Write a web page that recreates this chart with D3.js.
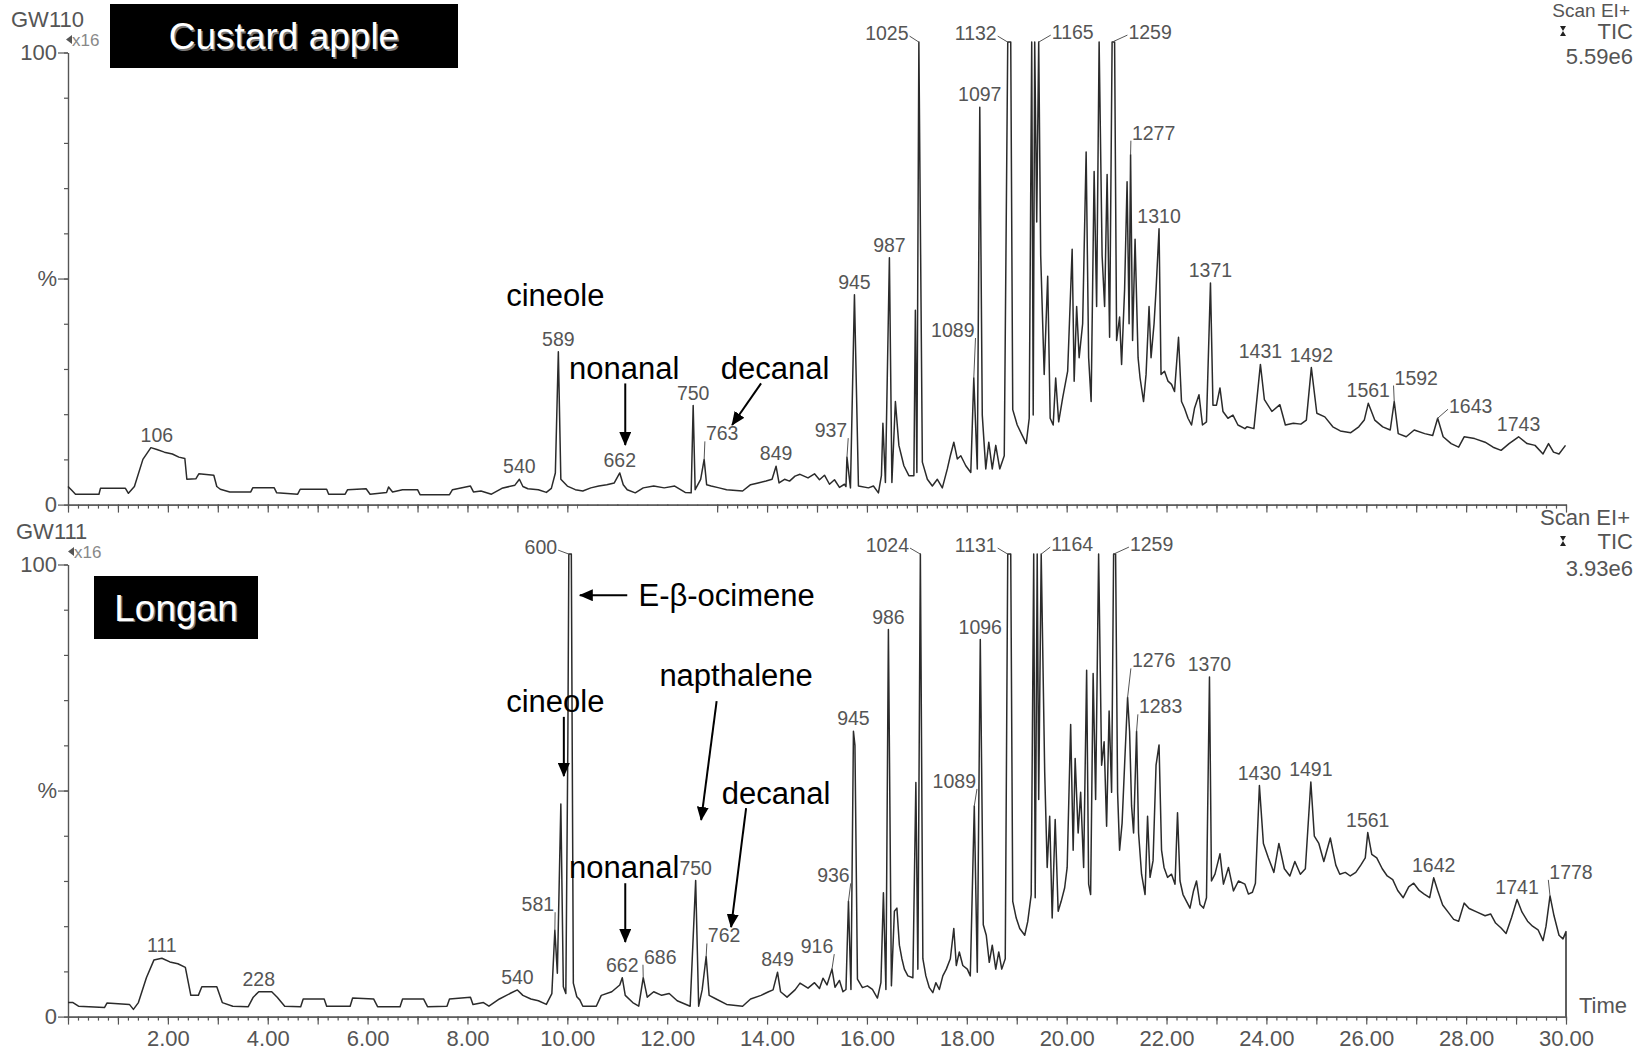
<!DOCTYPE html>
<html>
<head>
<meta charset="utf-8">
<script src="https://cdn.jsdelivr.net/npm/d3@7"></script>
<style>
  body { margin: 0; background: #fff; }
  svg { display: block; font-family: "Liberation Sans", Arial, sans-serif; }
</style>
</head>
<body>
<div id="chart"></div>
<script>
// TIC traces: [retention time (min), % of full scale]
const custardTrace = [
  [0.00, 4.0], [0.08, 3.1], [0.15, 2.3], [0.62, 2.3], [0.65, 3.6], [1.15, 3.6], [1.21, 2.5], [1.33, 4.0],
  [1.50, 10.0], [1.66, 12.6], [1.78, 12.2], [1.93, 11.6], [2.09, 11.2], [2.22, 10.5], [2.34, 10.2], [2.38, 5.6],
  [2.56, 5.7], [2.62, 6.8], [2.92, 6.5], [2.98, 4.0], [3.05, 3.4], [3.24, 2.8], [3.66, 2.8], [3.70, 3.7],
  [4.13, 3.7], [4.18, 2.6], [4.60, 2.3], [4.65, 3.4], [5.18, 3.4], [5.22, 2.3], [5.55, 2.3], [5.60, 3.3],
  [5.97, 3.5], [6.05, 2.3], [6.38, 2.7], [6.42, 3.9], [6.50, 2.8], [6.70, 3.3], [7.00, 3.3], [7.05, 2.2],
  [7.64, 2.2], [7.70, 3.3], [8.06, 4.1], [8.12, 2.8], [8.27, 3.0], [8.48, 2.3], [8.69, 3.6], [8.95, 4.3],
  [9.04, 5.6], [9.11, 4.0], [9.21, 3.5], [9.42, 3.3], [9.58, 2.7], [9.68, 3.6], [9.76, 7.0], [9.82, 33.8],
  [9.87, 5.6], [10.00, 4.1], [10.16, 3.3], [10.31, 3.0], [10.47, 3.7], [10.63, 4.1], [10.79, 4.4], [10.94, 4.8],
  [11.05, 7.0], [11.12, 4.4], [11.20, 3.3], [11.36, 2.6], [11.52, 3.7], [11.73, 4.1], [11.94, 3.7], [12.15, 4.1],
  [12.36, 2.7], [12.48, 2.6], [12.52, 21.9], [12.56, 3.3], [12.67, 5.6], [12.74, 10.0], [12.79, 4.4], [12.88, 4.1],
  [13.04, 3.7], [13.19, 3.3], [13.51, 3.0], [13.67, 4.4], [13.82, 4.8], [13.98, 5.2], [14.10, 5.6], [14.18, 8.5],
  [14.24, 4.8], [14.35, 5.6], [14.45, 5.2], [14.56, 6.3], [14.66, 6.7], [14.82, 5.9], [14.95, 6.8], [15.05, 5.5],
  [15.15, 6.5], [15.25, 4.5], [15.35, 5.5], [15.45, 3.8], [15.55, 4.5], [15.58, 4.0], [15.60, 10.5], [15.67, 3.7],
  [15.75, 46.4], [15.83, 4.1], [16.03, 3.7], [16.13, 4.1], [16.23, 2.6], [16.29, 6.4], [16.32, 18.0], [16.37, 4.9],
  [16.45, 54.6], [16.50, 4.9], [16.57, 22.8], [16.64, 13.1], [16.74, 8.6], [16.84, 6.4], [16.94, 6.4], [16.97, 43.0],
  [17.00, 7.1], [17.04, 102.3], [17.11, 9.4], [17.21, 5.6], [17.31, 4.1], [17.41, 5.6], [17.51, 3.7], [17.61, 7.9],
  [17.67, 10.8], [17.74, 13.8], [17.81, 10.1], [17.88, 10.8], [17.98, 8.6], [18.08, 7.1], [18.14, 28.0], [18.21, 7.9],
  [18.26, 87.9], [18.31, 19.8], [18.38, 7.9], [18.44, 13.8], [18.51, 7.9], [18.58, 13.1], [18.66, 7.9], [18.75, 10.8],
  [18.82, 102.3], [18.88, 102.3], [18.92, 21.0], [19.01, 17.6], [19.11, 15.3], [19.19, 13.5], [19.25, 19.1], [19.30, 102.3],
  [19.33, 19.8], [19.36, 102.3], [19.40, 62.5], [19.44, 102.3], [19.48, 55.0], [19.55, 28.8], [19.62, 50.5], [19.67, 19.1],
  [19.73, 17.6], [19.78, 28.0], [19.84, 18.3], [19.92, 23.6], [20.02, 29.5], [20.11, 56.5], [20.15, 27.3], [20.20, 43.8],
  [20.25, 32.5], [20.32, 40.0], [20.39, 78.0], [20.44, 32.5], [20.49, 22.8], [20.55, 73.7], [20.60, 43.8], [20.65, 102.3],
  [20.71, 55.0], [20.76, 43.8], [20.81, 73.0], [20.86, 37.0], [20.91, 102.3], [20.96, 102.3], [21.00, 36.3], [21.06, 41.5],
  [21.10, 31.0], [21.16, 47.5], [21.21, 71.4], [21.25, 40.0], [21.28, 77.4], [21.32, 36.3], [21.37, 58.7], [21.43, 32.5],
  [21.47, 28.0], [21.54, 22.8], [21.59, 28.8], [21.65, 43.8], [21.69, 32.5], [21.75, 40.0], [21.79, 47.5], [21.85, 61.0],
  [21.89, 28.8], [21.96, 29.5], [22.03, 27.3], [22.10, 26.6], [22.16, 25.0], [22.24, 37.0], [22.30, 22.8], [22.36, 21.3],
  [22.43, 19.1], [22.50, 17.6], [22.56, 21.3], [22.65, 24.3], [22.72, 17.6], [22.80, 18.3], [22.88, 49.0], [22.93, 22.0],
  [23.00, 22.0], [23.07, 25.8], [23.13, 20.6], [23.23, 19.1], [23.33, 19.8], [23.43, 17.6], [23.57, 16.8], [23.61, 17.2],
  [23.75, 16.8], [23.88, 31.0], [23.96, 23.2], [24.11, 20.6], [24.27, 22.1], [24.38, 17.6], [24.54, 18.0], [24.69, 17.8],
  [24.80, 18.7], [24.90, 30.3], [25.01, 20.2], [25.17, 19.4], [25.33, 17.2], [25.48, 16.3], [25.69, 15.9], [25.85, 17.2],
  [25.96, 18.7], [26.04, 22.4], [26.17, 18.7], [26.33, 17.2], [26.48, 16.5], [26.56, 22.8], [26.64, 15.7], [26.80, 15.0],
  [26.96, 16.5], [27.17, 15.7], [27.33, 15.3], [27.43, 19.1], [27.54, 15.0], [27.70, 13.5], [27.85, 12.7], [27.96, 15.0],
  [28.17, 14.6], [28.38, 13.8], [28.54, 12.7], [28.70, 12.0], [28.86, 13.5], [29.05, 15.0], [29.22, 13.5], [29.38, 13.1],
  [29.54, 11.2], [29.65, 13.5], [29.75, 11.6], [29.86, 11.2], [29.99, 13.1]
];

const longanTrace = [
  [0.00, 3.1], [0.10, 3.1], [0.21, 2.3], [0.73, 2.0], [0.78, 3.0], [1.23, 2.7], [1.31, 1.6], [1.41, 3.1],
  [1.57, 8.6], [1.72, 12.5], [1.88, 12.9], [2.04, 12.1], [2.20, 11.7], [2.35, 10.9], [2.46, 4.7], [2.61, 4.7],
  [2.68, 6.6], [2.98, 6.6], [3.09, 3.1], [3.30, 2.3], [3.61, 2.2], [3.71, 4.3], [3.82, 5.5], [4.08, 5.5],
  [4.19, 4.3], [4.34, 2.3], [4.66, 2.2], [4.71, 3.9], [5.13, 3.9], [5.18, 2.3], [5.65, 2.3], [5.70, 4.1],
  [6.12, 3.9], [6.20, 2.2], [6.65, 2.2], [6.70, 3.9], [7.12, 3.9], [7.20, 2.2], [7.59, 2.3], [7.64, 3.9],
  [8.06, 4.3], [8.11, 2.7], [8.32, 3.1], [8.43, 2.3], [8.64, 3.9], [8.85, 5.1], [9.00, 5.9], [9.11, 4.7],
  [9.27, 3.9], [9.42, 3.5], [9.58, 2.7], [9.69, 5.1], [9.75, 19.1], [9.80, 9.6], [9.87, 47.0], [9.92, 6.6],
  [9.97, 5.1], [10.01, 60.0], [10.03, 102.3], [10.08, 102.3], [10.12, 7.4], [10.19, 4.4], [10.25, 3.7], [10.31, 2.3],
  [10.58, 2.3], [10.68, 4.7], [10.89, 5.5], [11.05, 7.0], [11.10, 8.6], [11.16, 4.7], [11.31, 3.1], [11.43, 2.3],
  [11.52, 8.6], [11.60, 4.3], [11.73, 5.5], [11.89, 4.7], [12.04, 5.1], [12.20, 3.5], [12.46, 2.3], [12.57, 30.1],
  [12.63, 2.3], [12.70, 5.9], [12.78, 13.3], [12.84, 4.7], [12.98, 3.9], [13.19, 2.7], [13.51, 2.3], [13.67, 3.9],
  [13.88, 4.7], [14.03, 5.5], [14.12, 5.9], [14.21, 9.8], [14.27, 5.5], [14.40, 4.3], [14.56, 5.9], [14.66, 7.4],
  [14.82, 6.3], [14.95, 7.5], [15.05, 6.2], [15.12, 8.5], [15.20, 7.0], [15.30, 10.5], [15.36, 6.5], [15.45, 8.0],
  [15.52, 5.5], [15.58, 6.0], [15.63, 25.5], [15.68, 6.0], [15.73, 63.1], [15.76, 60.0], [15.81, 8.3], [15.91, 6.4],
  [16.01, 6.8], [16.11, 6.0], [16.21, 4.1], [16.28, 7.5], [16.33, 27.4], [16.38, 6.0], [16.43, 85.6], [16.49, 6.8],
  [16.55, 23.3], [16.60, 24.0], [16.65, 15.8], [16.70, 12.8], [16.75, 10.5], [16.82, 9.0], [16.92, 8.6], [16.98, 51.8],
  [17.02, 10.5], [17.07, 102.3], [17.12, 12.8], [17.18, 9.0], [17.25, 6.4], [17.32, 5.3], [17.38, 7.5], [17.45, 6.0],
  [17.52, 9.0], [17.59, 10.5], [17.67, 12.8], [17.74, 19.5], [17.79, 11.3], [17.85, 14.3], [17.92, 11.3], [18.01, 10.5],
  [18.07, 9.0], [18.15, 46.6], [18.21, 9.8], [18.27, 83.4], [18.33, 20.3], [18.39, 18.0], [18.45, 12.0], [18.51, 15.8],
  [18.58, 10.5], [18.64, 14.3], [18.70, 10.5], [18.77, 12.8], [18.82, 102.3], [18.88, 102.3], [18.92, 25.5], [18.99, 21.8],
  [19.06, 19.5], [19.16, 18.0], [19.22, 21.0], [19.29, 27.0], [19.34, 102.3], [19.37, 26.3], [19.41, 102.3], [19.44, 48.0],
  [19.49, 102.3], [19.56, 54.1], [19.61, 33.0], [19.66, 44.3], [19.71, 21.8], [19.77, 43.6], [19.83, 23.3], [19.89, 25.5],
  [19.96, 28.5], [20.01, 33.0], [20.08, 64.6], [20.13, 36.8], [20.17, 57.1], [20.23, 40.6], [20.28, 49.6], [20.34, 33.0],
  [20.40, 76.6], [20.44, 29.3], [20.48, 27.0], [20.53, 75.9], [20.58, 48.0], [20.64, 102.3], [20.70, 55.6], [20.75, 60.8],
  [20.80, 42.1], [20.85, 67.6], [20.90, 49.6], [20.94, 102.3], [20.98, 102.3], [21.02, 49.6], [21.06, 36.8], [21.11, 42.8],
  [21.16, 55.6], [21.22, 70.6], [21.26, 63.1], [21.30, 46.6], [21.34, 40.6], [21.40, 63.1], [21.44, 40.6], [21.50, 31.5],
  [21.57, 27.0], [21.62, 44.3], [21.67, 30.8], [21.73, 34.5], [21.79, 55.6], [21.85, 60.1], [21.90, 36.8], [21.95, 33.0],
  [22.02, 30.8], [22.10, 31.5], [22.17, 29.3], [22.22, 45.1], [22.27, 30.0], [22.33, 27.0], [22.40, 25.5], [22.47, 24.0],
  [22.54, 27.8], [22.60, 30.0], [22.67, 24.8], [22.74, 24.0], [22.80, 26.3], [22.86, 75.1], [22.90, 30.0], [22.97, 31.5],
  [23.07, 36.0], [23.14, 29.3], [23.24, 33.0], [23.34, 27.8], [23.44, 30.0], [23.57, 29.3], [23.64, 27.1], [23.72, 27.5],
  [23.78, 29.5], [23.86, 51.1], [23.94, 38.3], [24.04, 35.1], [24.15, 31.9], [24.25, 38.3], [24.36, 32.7], [24.47, 31.1],
  [24.57, 34.3], [24.68, 31.5], [24.78, 32.7], [24.89, 51.9], [24.96, 39.9], [25.05, 38.3], [25.15, 34.3], [25.28, 39.5],
  [25.39, 33.5], [25.47, 31.5], [25.58, 31.9], [25.68, 31.1], [25.79, 31.9], [25.89, 33.5], [25.98, 35.1], [26.03, 40.7],
  [26.11, 35.9], [26.21, 35.1], [26.32, 32.7], [26.42, 31.1], [26.53, 30.3], [26.63, 27.9], [26.74, 26.3], [26.85, 28.7],
  [26.95, 29.5], [27.06, 27.9], [27.16, 27.1], [27.27, 26.3], [27.35, 30.7], [27.43, 27.9], [27.53, 24.7], [27.64, 23.1],
  [27.75, 21.5], [27.85, 21.1], [27.96, 25.1], [28.06, 23.9], [28.22, 23.1], [28.38, 22.3], [28.49, 22.7], [28.59, 20.7],
  [28.70, 19.6], [28.80, 18.4], [28.91, 21.9], [29.02, 25.9], [29.12, 23.1], [29.23, 21.1], [29.33, 20.0], [29.44, 19.2],
  [29.54, 16.8], [29.60, 20.0], [29.68, 26.7], [29.76, 22.3], [29.86, 18.0], [29.94, 17.2], [30.00, 18.8], [30.00, 0.0]
];

// labelled peaks: [scan number, retention time]
const custardPeaks = [
  [106, 1.66], [540, 9.04], [589, 9.82], [662, 11.05], [750, 12.52], [763, 12.74], [849, 14.18],
  [937, 15.60], [945, 15.75], [987, 16.45], [1025, 17.04], [1089, 18.14], [1097, 18.26], [1132, 18.82],
  [1165, 19.44], [1259, 20.91], [1277, 21.28], [1310, 21.85], [1371, 22.88], [1431, 23.88], [1492, 24.90],
  [1561, 26.04], [1592, 26.56], [1643, 27.43], [1743, 29.05]
];
const longanPeaks = [
  [111, 1.88], [228, 3.82], [540, 9.00], [581, 9.75], [600, 10.03], [662, 11.10], [686, 11.52],
  [750, 12.57], [762, 12.78], [849, 14.21], [916, 15.30], [936, 15.63], [945, 15.73], [986, 16.43],
  [1024, 17.07], [1089, 18.15], [1096, 18.27], [1131, 18.82], [1164, 19.49], [1259, 20.94], [1276, 21.22],
  [1283, 21.40], [1370, 22.86], [1430, 23.86], [1491, 24.89], [1561, 26.03], [1642, 27.35], [1741, 29.02],
  [1778, 29.68]
];

const timeTicks = [2, 4, 6, 8, 10, 12, 14, 16, 18, 20, 22, 24, 26, 28, 30];

// compound notes, placed in (time, %) units of each panel
const custardNotes = [
  {text: "cineole", t: 9.76, v: 46.3},
  {text: "nonanal", t: 11.14, v: 30.2, from: [11.16, 26.8], to: [11.16, 13.2]},
  {text: "decanal", t: 14.16, v: 30.2, from: [13.88, 26.8], to: [13.30, 17.6]}
];
const longanNotes = [
  {text: "E-β-ocimene", t: 13.19, v: 93.2, from: [11.20, 93.2], to: [10.25, 93.2]},
  {text: "cineole", t: 9.76, v: 69.8, from: [9.93, 66.3], to: [9.93, 53.2]},
  {text: "napthalene", t: 13.38, v: 75.6, from: [12.99, 69.8], to: [12.68, 43.5]},
  {text: "decanal", t: 14.18, v: 49.6, from: [13.58, 46.1], to: [13.28, 19.8]},
  {text: "nonanal", t: 11.14, v: 33.2, from: [11.16, 29.5], to: [11.16, 16.5]}
];

// label offsets (px) for peak labels that sit beside their peak with a leader
const labelShift = {
  "custard-106": [6, 0], "custard-763": [18, -13], "custard-937": [-16, -14],
  "custard-1025": [-32, 4], "custard-1089": [-21, -35], "custard-1132": [-32, 4],
  "custard-1165": [34, 3], "custard-1259": [38, 3], "custard-1277": [23, -9],
  "custard-1592": [22, -11], "custard-1643": [33, 1],
  "longan-581": [-17, -13], "longan-600": [-28, 6], "longan-686": [17, -8],
  "longan-762": [18, -8], "longan-916": [-15, -10], "longan-936": [-15, -13],
  "longan-1024": [-33, 4], "longan-1089": [-20, -12], "longan-1131": [-32, 4],
  "longan-1164": [31, 3], "longan-1259": [38, 3], "longan-1276": [26, -24],
  "longan-1283": [24, -12], "longan-1778": [21, -11]
};

const width = 1645, height = 1052;
const grey = "#555";

const svg = d3.select("#chart").append("svg")
  .attr("width", width)
  .attr("height", height);

svg.append("defs").append("marker")
  .attr("id", "head")
  .attr("markerUnits", "userSpaceOnUse")
  .attr("viewBox", "0 0 14 12")
  .attr("markerWidth", 14)
  .attr("markerHeight", 12)
  .attr("refX", 13)
  .attr("refY", 6)
  .attr("orient", "auto")
  .append("path")
  .attr("d", "M0,0L14,6L0,12Z")
  .attr("fill", "#000");

const x = d3.scaleLinear().domain([0, 30]).range([68, 1566]);

// info: baselines of "Scan EI+", "TIC", the scale value, and the TIC marker centre
const panels = [
  {key: "custard", run: "GW110", name: "Custard apple", tic: "5.59e6", base: 504.6,
   trace: custardTrace, peaks: custardPeaks, notes: custardNotes,
   box: [110, 4, 348, 64], info: [17, 39, 64, 31], scanSize: 19, showTime: false},
  {key: "longan", run: "GW111", name: "Longan", tic: "3.93e6", base: 1016.6,
   trace: longanTrace, peaks: longanPeaks, notes: longanNotes,
   box: [94, 576, 164, 63], info: [525, 549, 576, 541], scanSize: 22, showTime: true}
];

function styleAxis(sel, size) {
  sel.selectAll("path, line").attr("stroke", grey).attr("stroke-width", 1.2);
  sel.selectAll("text").attr("fill", grey).style("font-size", size + "px");
}

function drawPanel(p) {
  const y = d3.scaleLinear().domain([0, 100]).range([p.base, p.base - 452.1]);
  const g = svg.append("g");

  // x axis: minor ticks every 0.2 min, major every minute
  g.append("g")
    .attr("transform", `translate(0,${p.base})`)
    .call(d3.axisBottom(x).tickValues(d3.range(0, 151).map(i => i / 5))
      .tickSize(4).tickSizeOuter(0).tickFormat(""))
    .call(styleAxis, 22);
  g.append("g")
    .attr("transform", `translate(0,${p.base})`)
    .call(d3.axisBottom(x).tickValues(d3.range(0, 31)).tickSize(8).tickSizeOuter(0).tickPadding(6)
      .tickFormat(d => p.showTime && timeTicks.includes(d) ? d.toFixed(2) : ""))
    .call(styleAxis, 22);

  // y axis
  g.append("g")
    .attr("transform", "translate(68,0)")
    .call(d3.axisLeft(y).tickValues(d3.range(0, 101, 10)).tickSize(4).tickSizeOuter(0).tickFormat(""))
    .call(styleAxis, 22);
  g.append("g")
    .attr("transform", "translate(68,0)")
    .call(d3.axisLeft(y).tickValues([0, 50, 100]).tickSize(10).tickSizeOuter(0).tickPadding(1)
      .tickFormat(d => d === 50 ? "%" : d))
    .call(styleAxis, 22);

  // trace
  g.append("path")
    .datum(p.trace)
    .attr("fill", "none")
    .attr("stroke", "#2b2b2b")
    .attr("stroke-width", 1.5)
    .attr("stroke-linejoin", "round")
    .attr("d", d3.line().x(d => x(d[0])).y(d => y(d[1])));

  // peak scan labels
  p.peaks.forEach(([scan, t]) => {
    const v = d3.max(p.trace.filter(d => d[0] === t), d => d[1]);
    const px = x(t), py = y(v);
    const s = labelShift[p.key + "-" + scan] || [0, 0];
    const tx = px + s[0], ty = py - 6 + s[1];
    const label = g.append("text")
      .attr("x", tx)
      .attr("y", ty)
      .attr("text-anchor", "middle")
      .attr("fill", grey)
      .style("font-size", "19.5px")
      .text(scan);
    if (Math.abs(s[0]) > 8) {
      const w = label.node().getComputedTextLength();
      const ex = s[0] < 0 ? tx + w / 2 + 1 : tx - w / 2 - 1;
      const ey = py > ty + 6 ? ty + 1 : ty - 4;
      g.append("line")
        .attr("x1", ex).attr("y1", ey)
        .attr("x2", px).attr("y2", py)
        .attr("stroke", grey)
        .attr("stroke-width", 1);
    }
  });

  // run id and magnification
  g.append("text")
    .attr("x", p.key === "custard" ? 11 : 16)
    .attr("y", p.base - 478)
    .attr("fill", grey)
    .style("font-size", "22px")
    .text(p.run);
  const mx = p.key === "custard" ? 66 : 68, my = p.base - 465;
  g.append("path")
    .attr("d", `M${mx},${my}l6,-4.5v9z`)
    .attr("fill", grey);
  g.append("text")
    .attr("x", mx + 6)
    .attr("y", my + 6)
    .attr("fill", "#888")
    .style("font-size", "17px")
    .text("x16");

  // acquisition info, top right
  const [sy, ty, vy, my2] = p.info;
  const info = g.append("g").attr("fill", grey).attr("text-anchor", "end").style("font-size", "22px");
  info.append("text").attr("x", 1630).attr("y", sy).style("font-size", p.scanSize + "px").text("Scan EI+");
  info.append("text").attr("x", 1633).attr("y", ty).text("TIC");
  info.append("text").attr("x", 1633).attr("y", vy).text(p.tic);
  g.append("path")
    .attr("d", `M1560,${my2 - 5}h6l-3,5zM1560,${my2 + 5}h6l-3,-5z`)
    .attr("fill", "#222");

  // sample name box
  const [bx, bby, bw, bh] = p.box;
  g.append("rect").attr("x", bx).attr("y", bby).attr("width", bw).attr("height", bh).attr("fill", "#000");
  [["#777", 1.5], ["#fff", 0]].forEach(([c, o]) => {
    g.append("text")
      .attr("x", bx + bw / 2 + o)
      .attr("y", bby + bh / 2 + 13 + o)
      .attr("text-anchor", "middle")
      .attr("fill", c)
      .style("font-size", "37px")
      .text(p.name);
  });

  // compound notes and arrows
  p.notes.forEach(n => {
    g.append("text")
      .attr("x", x(n.t))
      .attr("y", y(n.v))
      .attr("dy", "0.36em")
      .attr("text-anchor", "middle")
      .attr("fill", "#000")
      .style("font-size", "31px")
      .text(n.text);
    if (n.from) {
      g.append("line")
        .attr("x1", x(n.from[0])).attr("y1", y(n.from[1]))
        .attr("x2", x(n.to[0])).attr("y2", y(n.to[1]))
        .attr("stroke", "#000")
        .attr("stroke-width", 2)
        .attr("marker-end", "url(#head)");
    }
  });

  if (p.showTime) {
    g.append("text")
      .attr("x", 1579)
      .attr("y", p.base - 4)
      .attr("fill", grey)
      .style("font-size", "22px")
      .text("Time");
  }
}

panels.forEach(drawPanel);

// white patch over part of the upper time axis, as in the source scan
svg.append("rect")
  .attr("x", 578).attr("y", 506)
  .attr("width", 138).attr("height", 12)
  .attr("fill", "#fff");
</script>
</body>
</html>
